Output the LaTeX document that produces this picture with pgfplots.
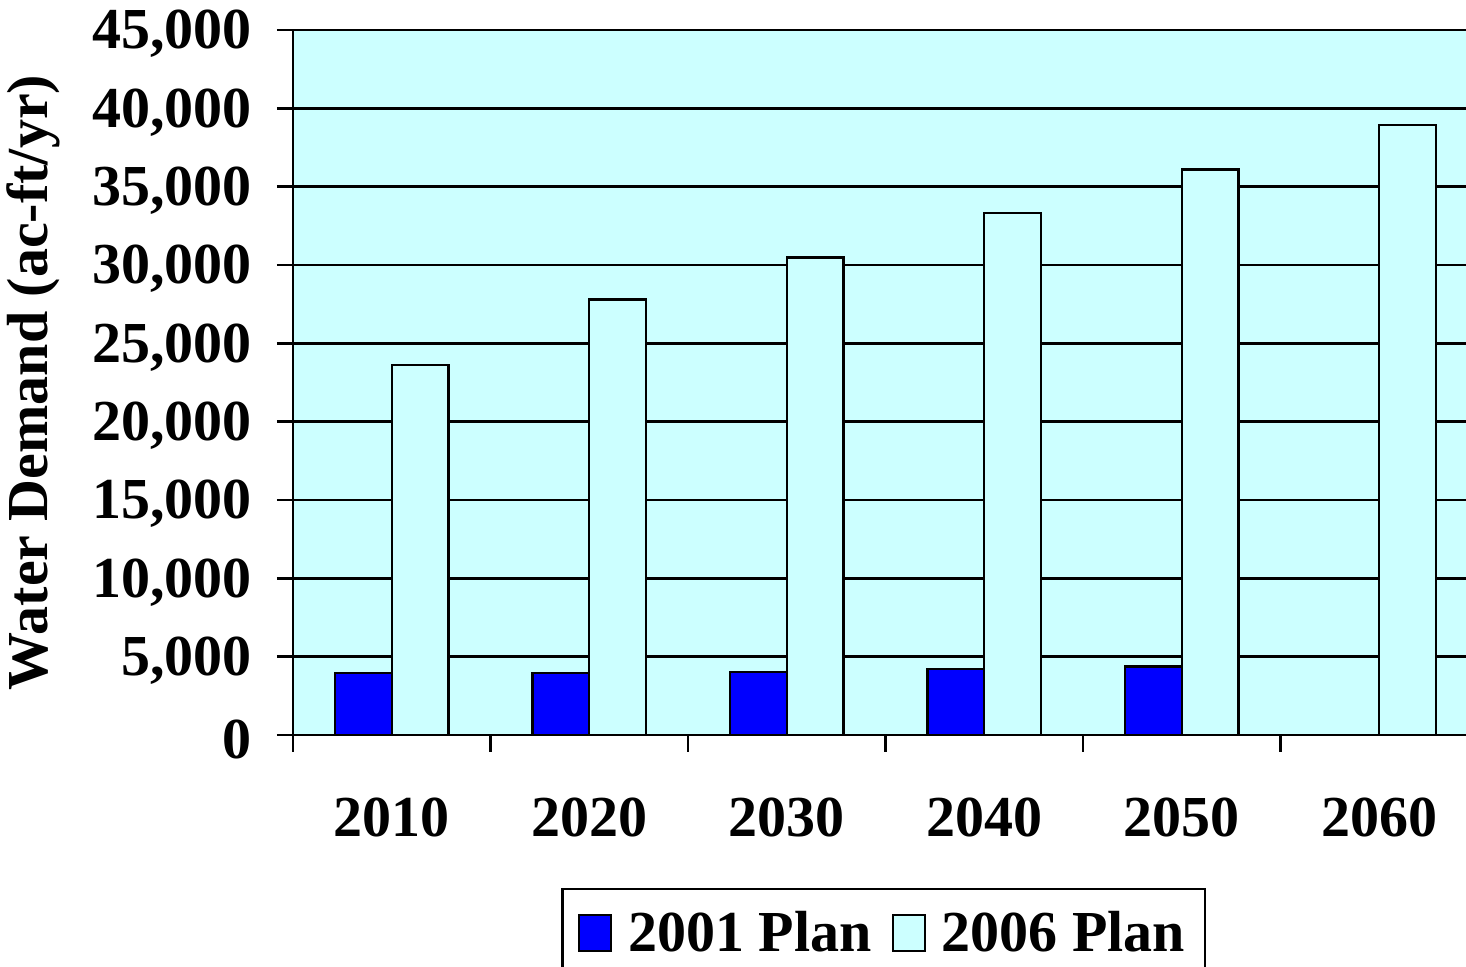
\documentclass[border=0pt]{standalone}
\usepackage{fontspec}
\setmainfont{Liberation Serif}
\usepackage{pgfplots}
\pgfplotsset{compat=1.18}
\definecolor{lightcyan}{HTML}{CCFFFF}
\definecolor{barblue}{HTML}{0000FF}
\begin{document}
\begin{tikzpicture}[font=\fontsize{29}{34}\selectfont\bfseries]
\begin{axis}[
  scale only axis,
  width=592.5pt, height=352.5pt,
  xmin=0, xmax=6, ymin=0, ymax=45000,
  axis x line*=bottom, axis y line*=left,
  axis line style={line width=1.2pt},
  axis background/.style={fill=lightcyan},
  ybar=0pt, bar width=0.288,
  ytick={0,5000,...,45000},
  scaled y ticks=false,
  /pgf/number format/assume math mode=true,
  yticklabel style={/pgf/number format/.cd, fixed, 1000 sep={,}, /tikz/.cd, xshift=-9pt, yshift=-2pt},
  ymajorgrids,
  grid style={black, line width=1.2pt},
  tick align=outside,
  major tick length=8pt,
  minor tick length=8.5pt,
  tick style={black, line width=1.2pt},
  major x tick style={draw=none},
  xtick={0.5,1.5,2.5,3.5,4.5,5.5},
  xticklabels={2010,2020,2030,2040,2050,2060},
  minor xtick={0,1,2,3,4,5},
  xticklabel style={yshift=-20pt},
  ylabel={Water Demand (ac-ft/yr)},
  ylabel style={at={(axis description cs:-0.196,0.5)}, anchor=south, inner sep=0pt},
  legend columns=-1,
  legend style={at={(0.4985,0)}, anchor=north, yshift=-76.5pt, draw=black, line width=1.2pt,
     inner xsep=8pt, inner ysep=9pt,
     /tikz/every odd column/.append style={column sep=6pt},
     /tikz/every even column/.append style={column sep=8pt}},
  legend image code/.code={\draw[#1, line width=1pt] (0pt,-9pt) rectangle (16pt,9pt);},
  clip=false,
]
\addplot[fill=barblue, draw=black, line width=1.2pt] coordinates {
  (0.5,3940) (1.5,3940) (2.5,4040) (3.5,4210) (4.5,4360)};
\addplot[fill=lightcyan, draw=black, line width=1.2pt] coordinates {
  (0.5,23610) (1.5,27800) (2.5,30490) (3.5,33300) (4.5,36100) (5.5,38930)};
\legend{2001 Plan, 2006 Plan}
\end{axis}
\pgfresetboundingbox
\path[use as bounding box] (-146.5pt,-116pt) rectangle (586.5pt,367.5pt);
\end{tikzpicture}
\end{document}
